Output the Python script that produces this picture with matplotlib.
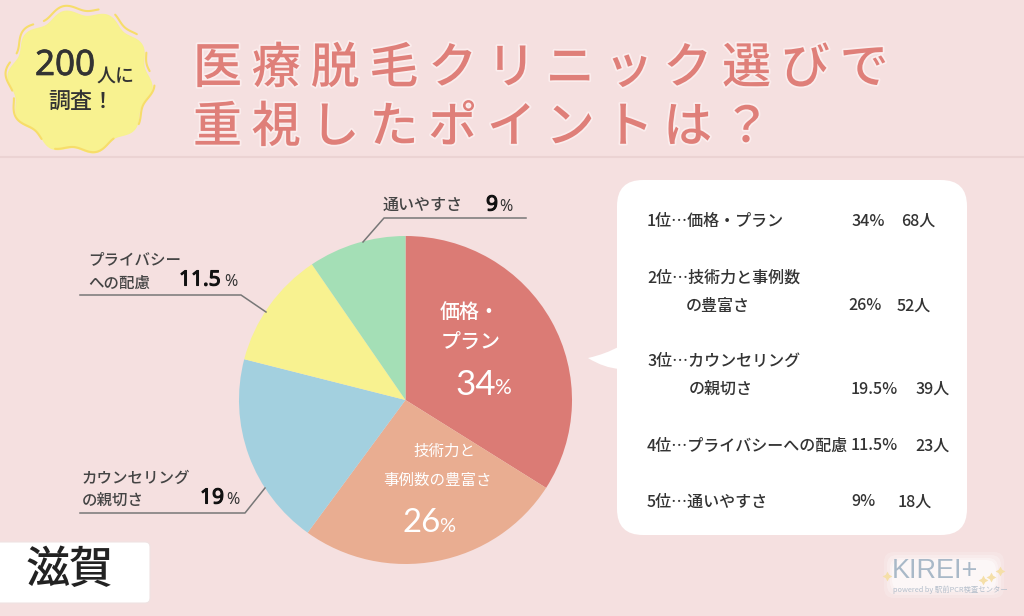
import numpy as np
import matplotlib
matplotlib.use("Agg")
import matplotlib.pyplot as plt
from matplotlib.patches import FancyBboxPatch, PathPatch
from matplotlib.path import Path
import matplotlib.patheffects as pe

plt.rcParams['font.family'] = ['Noto Sans CJK JP', 'DejaVu Sans']

W, H = 1024, 616
BG = '#F5E0E0'
categories = ['価格・プラン', '技術力と事例数の豊富さ', 'カウンセリングの親切さ', 'プライバシーへの配慮', '通いやすさ']
shares = [34, 26, 19, 11.5, 9.5]
colors = ['#DB7B75', '#E9AD91', '#A3D0DF', '#F8F290', '#A4DFB6']

rank_labels = ['1位…価格・プラン', '2位…技術力と事例数', '3位…カウンセリング', '4位…プライバシーへの配慮', '5位…通いやすさ']
rank_second = ['', 'の豊富さ', 'の親切さ', '', '']
rank_pct = ['34%', '26%', '19.5%', '11.5%', '9%']
rank_people = ['68人', '52人', '39人', '23人', '18人']

fig = plt.figure(figsize=(W / 100, H / 100), dpi=100, facecolor=BG)
ax = fig.add_axes([0, 0, 1, 1])
ax.set_xlim(0, W)
ax.set_ylim(0, H)
ax.axis('off')

def Y(y):
    return H - y

def px(v):
    return v * 0.72

def T(x, y, s, size, color='#444444', weight='normal', ha='left', **kw):
    return ax.text(x, Y(y), s, fontsize=px(size), color=color, fontweight=weight,
                   ha=ha, va='center', zorder=6, **kw)

# header rule
ax.plot([0, W], [Y(156.5), Y(156.5)], color='#EBD3D3', lw=1.5, zorder=1)

# badge
th = np.linspace(0, 2 * np.pi, 500)
r = 69 + 3.2 * np.cos(10 * th + 0.9)
ax.fill(80 + r * np.cos(th), Y(82) + r * np.sin(th), color='#F8F290', zorder=2)
r2 = 71.5 + 3.2 * np.cos(10 * th + 0.9)
ox = 80 + r2 * np.cos(th)
oy = Y(79) + r2 * np.sin(th)
for a, b in [(-38, -5), (6, 22), (38, 62), (75, 122), (130, 158), (166, 190), (196, 238), (250, 300), (312, 318)]:
    d = (np.degrees(th) + 60) % 360 - 60
    m = (d >= a) & (d <= b)
    o = np.argsort(d[m])
    ax.plot(ox[m][o], oy[m][o], color='#F7DD6A', lw=1.5, zorder=3, solid_capstyle='round')
T(35, 66, '200', 35, color='#333333', family='Noto Sans',
  path_effects=[pe.withStroke(linewidth=0.5, foreground='#333333')])
T(97, 76, '人に', 19, color='#333333', weight='medium')
T(81, 101, '調査！', 22, color='#333333', weight='medium', ha='center')

# title
TC = '#DF7F79'
glow = [pe.withStroke(linewidth=2.5, foreground='#FBEDED')]
T(193, 69, '\u2009'.join('医療脱毛クリニック選びで'), 49, color=TC, weight='medium', path_effects=glow)
T(193, 128, '\u2009'.join('重視したポイントは？'), 49, color=TC, weight='medium', path_effects=glow)

# pie, in its own axes so its pixel box is the reference's
pie_ax = fig.add_axes([239 / W, 1 - 564 / H, 333 / W, 328 / H], zorder=1)
pie_ax.pie(shares, colors=colors, startangle=90, counterclock=False, radius=1, frame=False,
           wedgeprops={'linewidth': 0})
pie_ax.set_aspect('auto')
pie_ax.set_xlim(-1, 1)
pie_ax.set_ylim(-1, 1)
pie_ax.axis('off')

# overlay axes for text
ax2 = fig.add_axes([0, 0, 1, 1], zorder=2)
ax2.set_xlim(0, W)
ax2.set_ylim(0, H)
ax2.axis('off')
ax2.patch.set_alpha(0)
ax = ax2

# labels on the slices
T(440, 313, '価格・', 20, color='white', weight='medium')
T(441, 342, 'プラン', 20, color='white', weight='medium')
T(455, 385, '34', 35, color='white', family='Lato')
T(494, 388, '%', 21, color='white', family='Lato')
T(444, 451, '技術力と', 15.5, color='white', ha='center')
T(437, 480, '事例数の豊富さ', 15.5, color='white', ha='center')
T(402, 523, '26', 33, color='white', family='Lato')
T(439, 526, '%', 20, color='white', family='Lato')

# leader lines and outside labels
LC = '#777777'
BOLD = [pe.withStroke(linewidth=0.8, foreground='#111111')]
def leader(xs, ys):
    ax.plot(xs, [Y(v) for v in ys], color=LC, lw=1.1, zorder=5)

leader([526, 384, 363], [218, 218, 242])
T(383, 205, '通いやすさ', 16, weight='medium')
T(486, 205, '9', 21, color='#111111', family='Noto Sans', path_effects=BOLD)
T(499, 207, '%', 16, color='#333333', family='Noto Sans')

leader([80, 241, 266], [295, 295, 312])
T(88, 260, 'プライバシー', 15.5, weight='medium')
T(88, 283, 'への配慮', 15.5, weight='medium')
T(179, 280, '11.5', 21, color='#111111', family='Noto Sans', path_effects=BOLD)
T(224, 282, '%', 16, color='#333333', family='Noto Sans')

leader([80, 245, 265], [513, 513, 488])
T(82, 478, 'カウンセリング', 15.5, weight='medium')
T(82, 500, 'の親切さ', 15.5, weight='medium')
T(200, 498, '19', 21, color='#111111', family='Noto Sans', path_effects=BOLD)
T(226, 500, '%', 16, color='#333333', family='Noto Sans')

# callout panel
ax.add_patch(FancyBboxPatch((617 + 26, Y(535) + 26), 350 - 52, 355 - 52,
                            boxstyle='round,pad=26,rounding_size=26',
                            fc='white', ec='none', zorder=2))
tail = Path([(620, Y(346)), (606, Y(354)), (588, Y(358)), (604, Y(368)), (620, Y(369)), (620, Y(346))],
            [Path.MOVETO, Path.CURVE3, Path.CURVE3, Path.CURVE3, Path.CURVE3, Path.CLOSEPOLY])
ax.add_patch(PathPatch(tail, fc='white', ec='none', zorder=2))

row_y = [221, 278, 361, 446, 502]
second_y = {1: 306, 2: 389}
second_x = {1: 686, 2: 689}
pct_x = [851, 848, 851, 851, 851]
ppl_x = [901, 897, 915, 915, 898]
for i in range(5):
    T(647, row_y[i], rank_labels[i], 16, color='#333333', weight='medium')
    yy = second_y.get(i, row_y[i])
    T(pct_x[i], yy, rank_pct[i], 16, color='#333333', weight='medium')
    T(ppl_x[i], yy, rank_people[i], 16, color='#333333', weight='medium')
    if rank_second[i]:
        T(second_x[i], yy, rank_second[i], 16, color='#333333', weight='medium')

# region tag
ax.add_patch(FancyBboxPatch((-10, Y(603)), 160, 61, boxstyle='round,pad=0,rounding_size=5',
                            fc='white', ec='#EFE3E3', lw=0.8, zorder=2))
T(26, 570, '滋賀', 44, color='#222222', weight='medium')

# logo
for grow, a in [(8, 0.18), (5, 0.25), (2, 0.35), (0, 0.45)]:
    ax.add_patch(FancyBboxPatch((892 - grow, Y(590) - grow), 104 + 2 * grow, 30 + 2 * grow,
                                boxstyle='round,pad=0,rounding_size=10',
                                fc='white', alpha=a, ec='none', zorder=2))
T(892, 570.5, 'KIREI+', 27, color='#A9B9C8', family=['Liberation Sans'])
T(893, 589.5, 'powered by 駅前PCR検査センター', 7.4, color='#B4BECB')
ax.plot([887, 1000, 991, 983], [Y(576), Y(571), Y(577), Y(580)], ls='none', marker=(4, 1, 0),
        ms=7, color='#F5DFA8', mew=0, zorder=5)

fig.savefig('out.png', dpi=100, facecolor=BG)
